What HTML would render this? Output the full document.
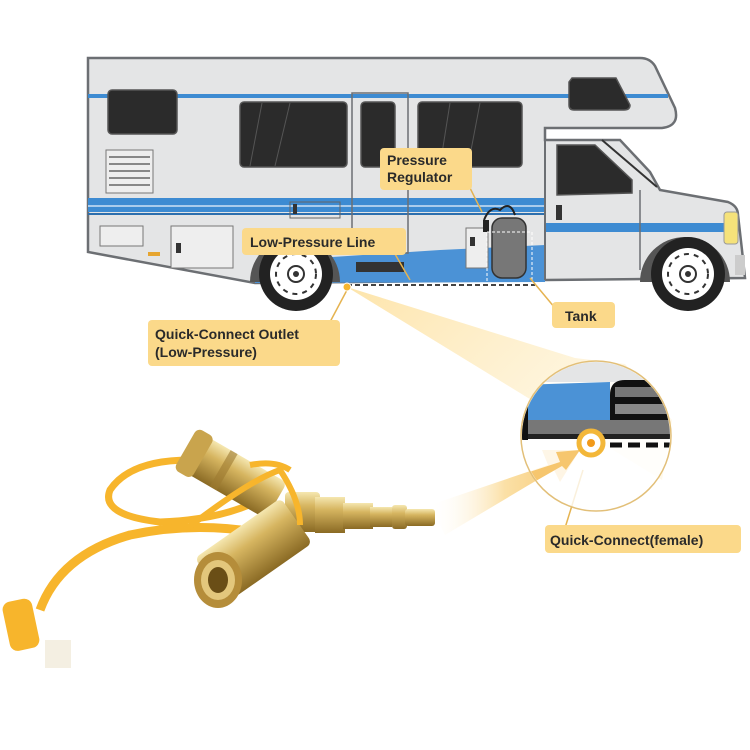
<!DOCTYPE html>
<html><head><meta charset="utf-8"><style>
html,body{margin:0;padding:0;background:#fff;}
svg{display:block}
text{font-family:"Liberation Sans",sans-serif;font-weight:bold;fill:#2a2a2a}
</style></head><body>
<svg width="750" height="750" viewBox="0 0 750 750" xmlns="http://www.w3.org/2000/svg">
<defs>
<linearGradient id="beam" x1="0" y1="0" x2="1" y2="0.6">
<stop offset="0" stop-color="#fde3a6" stop-opacity="0.95"/>
<stop offset="1" stop-color="#fff3d6" stop-opacity="0.5"/>
</linearGradient>
<linearGradient id="arr" x1="0" y1="0" x2="1" y2="0">
<stop offset="0" stop-color="#fff" stop-opacity="0"/>
<stop offset="0.5" stop-color="#fbe0a6"/>
<stop offset="1" stop-color="#f6c66e"/>
</linearGradient>
<linearGradient id="brass" x1="0" y1="0" x2="0" y2="1">
<stop offset="0" stop-color="#f5e7b0"/>
<stop offset="0.35" stop-color="#d6b560"/>
<stop offset="1" stop-color="#8a6a24"/>
</linearGradient>
<clipPath id="cc"><circle cx="596" cy="436" r="74"/></clipPath>
</defs>
<rect width="750" height="750" fill="#fff"/>
<!-- beam -->
<polygon points="347,287 575,358 625,364 672,420 662,480" fill="url(#beam)"/>
<!-- RV body -->
<path d="M88,58 L640,58 Q650,58 655,66 L675,108 Q680,126 662,128 L545,128 L545,140 L620,140 L650,172 L660,190 L728,202 Q738,206 738,215 L742,250 L745,278 L255,283 L88,252 Z" fill="#e4e5e6" stroke="#6c6f73" stroke-width="2.5"/>
<!-- blue stripes -->
<rect x="88" y="94" width="580" height="4" fill="#3d8bd2"/>
<path d="M88,198 L545,198 L545,212 L88,212 Z" fill="#3d8bd2"/>
<line x1="88" y1="206" x2="545" y2="206" stroke="#cfe2f5" stroke-width="1.5"/>
<path d="M545,223 L728,223 L728,232 L545,232 Z" fill="#3d8bd2"/>
<rect x="88" y="213" width="457" height="2" fill="#2d6fae"/>
<!-- blue low pressure region -->
<polygon points="255,262 440,250 545,245 545,282 255,283" fill="#4b92d6"/>
<rect x="356" y="262" width="48" height="10" fill="#333"/>
<!-- windows -->
<g fill="#2b2b2b" stroke="#555" stroke-width="1.5">
<rect x="108" y="90" width="69" height="44" rx="4"/>
<rect x="240" y="102" width="107" height="65" rx="4"/>
<rect x="361" y="102" width="34" height="65" rx="4"/>
<rect x="418" y="102" width="104" height="65" rx="4"/>
<path d="M572,78 L616,78 L630,105 Q630,110 624,110 L574,110 Q569,110 569,105 L569,82 Z"/>
<path d="M557,145 L595,145 L632,180 L632,193 L557,195 Z"/>
</g>
<line x1="602" y1="140" x2="657" y2="187" stroke="#333" stroke-width="2"/>
<g stroke="#555" stroke-width="1" fill="none">
<line x1="262" y1="103" x2="250" y2="166"/><line x1="290" y1="103" x2="275" y2="166"/>
<line x1="450" y1="103" x2="440" y2="166"/><line x1="480" y1="103" x2="468" y2="166"/>
</g>
<!-- door -->
<rect x="352" y="93" width="56" height="160" fill="none" stroke="#6c6f73" stroke-width="1.5"/>
<!-- vent -->
<rect x="106" y="150" width="47" height="43" fill="#eee" stroke="#777"/>
<g stroke="#888" stroke-width="2"><line x1="109" y1="157" x2="150" y2="157"/><line x1="109" y1="164" x2="150" y2="164"/><line x1="109" y1="171" x2="150" y2="171"/><line x1="109" y1="178" x2="150" y2="178"/><line x1="109" y1="185" x2="150" y2="185"/></g>
<rect x="100" y="226" width="43" height="20" fill="#eee" stroke="#777"/>
<rect x="171" y="226" width="62" height="42" fill="#eee" stroke="#777"/>
<rect x="176" y="243" width="5" height="10" fill="#333"/>
<rect x="148" y="252" width="12" height="4" fill="#e6a530"/>
<rect x="290" y="202" width="50" height="16" fill="none" stroke="#666"/>
<rect x="293" y="204" width="4" height="10" fill="#333"/>
<rect x="556" y="205" width="6" height="15" fill="#333"/>
<rect x="466" y="228" width="22" height="40" fill="#eee" stroke="#777"/>
<rect x="470" y="237" width="5" height="9" fill="#333"/>
<!-- cab vertical -->
<line x1="640" y1="190" x2="640" y2="270" stroke="#6c6f73" stroke-width="1.5"/>
<line x1="545" y1="128" x2="545" y2="280" stroke="#6c6f73" stroke-width="2"/>
<rect x="724" y="212" width="14" height="32" rx="3" fill="#f5e27a" stroke="#999"/>
<rect x="735" y="255" width="10" height="20" fill="#ccc"/>
<!-- tank -->
<rect x="492" y="218" width="34" height="60" rx="10" fill="#777" stroke="#333" stroke-width="1.5"/>
<path d="M484,220 Q490,205 500,210 Q510,200 515,215" fill="none" stroke="#222" stroke-width="2"/>
<rect x="483" y="220" width="6" height="12" fill="#222"/>
<rect x="487" y="232" width="45" height="52" fill="none" stroke="#fff" stroke-width="1" stroke-dasharray="3,2"/>
<!-- dashed line under -->
<line x1="347" y1="285" x2="535" y2="285" stroke="#444" stroke-width="2" stroke-dasharray="5,3"/>
<!-- wheels -->
<g>
<path d="M250,282 A45,45 0 0 1 340,282 Z" fill="#555"/>
<circle cx="296" cy="274" r="37" fill="#222"/><circle cx="296" cy="274" r="26" fill="#fff"/>
<circle cx="296" cy="274" r="20" fill="none" stroke="#333" stroke-width="2" stroke-dasharray="5,5"/>
<circle cx="296" cy="274" r="8" fill="none" stroke="#333" stroke-width="2"/><circle cx="296" cy="274" r="3" fill="#333"/>
<path d="M640,282 A45,45 0 0 1 730,282 Z" fill="#555"/>
<circle cx="688" cy="274" r="37" fill="#222"/><circle cx="688" cy="274" r="26" fill="#fff"/>
<circle cx="688" cy="274" r="20" fill="none" stroke="#333" stroke-width="2" stroke-dasharray="5,5"/>
<circle cx="688" cy="274" r="8" fill="none" stroke="#333" stroke-width="2"/><circle cx="688" cy="274" r="3" fill="#333"/>
</g>
<!-- pointer lines -->
<g stroke="#e5b350" stroke-width="1.5" fill="none">
<line x1="347" y1="290" x2="330" y2="322"/>
<line x1="395" y1="254" x2="410" y2="280"/>
<line x1="470" y1="188" x2="482" y2="212"/>
<line x1="530" y1="278" x2="555" y2="308"/>
<line x1="583" y1="470" x2="565" y2="528"/>
</g>
<circle cx="347" cy="287" r="4" fill="#f5b530" stroke="#fff"/>
<!-- labels -->
<g fill="#fbd98a">
<rect x="380" y="148" width="92" height="42" rx="4"/>
<rect x="242" y="228" width="164" height="27" rx="4"/>
<rect x="552" y="302" width="63" height="26" rx="4"/>
<rect x="148" y="320" width="192" height="46" rx="4"/>
<rect x="545" y="525" width="196" height="28" rx="4"/>
</g>
<text x="387" y="165" font-size="14">Pressure</text>
<text x="387" y="182" font-size="14">Regulator</text>
<text x="250" y="247" font-size="14">Low-Pressure Line</text>
<text x="565" y="321" font-size="14">Tank</text>
<text x="155" y="339" font-size="14">Quick-Connect Outlet</text>
<text x="155" y="357" font-size="14">(Low-Pressure)</text>
<text x="550" y="545" font-size="14">Quick-Connect(female)</text>
<!-- big arrow -->
<polygon points="430,505 548,465 542,450 580,450 560,482 554,470 445,535" fill="url(#arr)"/>
<!-- zoom circle -->
<circle cx="596" cy="436" r="75" fill="#fff" fill-opacity="0.8"/>
<g clip-path="url(#cc)">
<rect x="520" y="360" width="160" height="22" fill="#e4e5e6"/>
<polygon points="520,385 610,382 610,420 520,420" fill="#4b92d6"/>
<path d="M610,420 L610,395 Q610,380 625,380 L680,380 L680,420 Z" fill="#111"/>
<rect x="615" y="387" width="65" height="10" fill="#777"/>
<rect x="615" y="404" width="65" height="10" fill="#888"/>
<rect x="520" y="420" width="160" height="14" fill="#777"/>
<rect x="520" y="434" width="160" height="5" fill="#222"/>
<rect x="518" y="380" width="10" height="60" fill="#111"/>
<line x1="610" y1="445" x2="680" y2="445" stroke="#111" stroke-width="5" stroke-dasharray="12,6"/>
<polygon points="520,475 560,462 556,452 580,450 566,470 562,466 520,490" fill="#f6c66e"/>
</g>
<circle cx="596" cy="436" r="75" fill="none" stroke="#e2bf78" stroke-width="1.5"/>
<circle cx="591" cy="443" r="12" fill="#fff" stroke="#f3b739" stroke-width="5"/>
<circle cx="591" cy="443" r="4" fill="#f29a1a"/>
<!-- fitting: straps behind -->
<path d="M190,460 Q130,460 110,490 Q100,515 160,522 Q220,520 260,500" fill="none" stroke="#f7b52c" stroke-width="7"/>
<path d="M270,535 Q200,520 130,535 Q60,555 40,610" fill="none" stroke="#f7b52c" stroke-width="9"/>
<!-- upper coupler -->
<g transform="rotate(30 225 470)">
<rect x="185" y="450" width="100" height="42" rx="6" fill="url(#brass)"/>
<rect x="180" y="447" width="20" height="48" rx="6" fill="#c9a44d"/>
<rect x="220" y="450" width="8" height="42" fill="#9c7a30" opacity="0.6"/>
</g>
<!-- tee and plug -->
<rect x="285" y="492" width="35" height="40" rx="4" fill="url(#brass)"/>
<rect x="315" y="497" width="30" height="36" fill="url(#brass)"/>
<rect x="343" y="503" width="30" height="26" fill="url(#brass)"/>
<rect x="370" y="507" width="22" height="20" fill="url(#brass)"/>
<rect x="392" y="505" width="15" height="24" rx="3" fill="url(#brass)"/>
<rect x="405" y="509" width="30" height="17" rx="3" fill="url(#brass)"/>
<!-- lower coupler -->
<g transform="rotate(-35 250 550)">
<rect x="200" y="525" width="105" height="55" rx="6" fill="url(#brass)"/>
</g>
<ellipse cx="218" cy="580" rx="24" ry="28" fill="#b58d3a"/>
<ellipse cx="218" cy="580" rx="17" ry="20" fill="#e3c77c"/>
<ellipse cx="218" cy="580" rx="10" ry="13" fill="#6a4e16"/>
<!-- straps front -->
<path d="M185,530 Q250,480 280,470 Q300,500 300,525" fill="none" stroke="#f7b52c" stroke-width="6"/>
<path d="M250,465 Q275,460 290,470" fill="none" stroke="#f7b52c" stroke-width="6"/>
<!-- cap -->
<rect x="6" y="600" width="30" height="50" rx="8" fill="#f7b52c" transform="rotate(-12 20 625)"/>
<rect x="45" y="640" width="26" height="28" fill="#f4efe2"/>
</svg>
</body></html>
